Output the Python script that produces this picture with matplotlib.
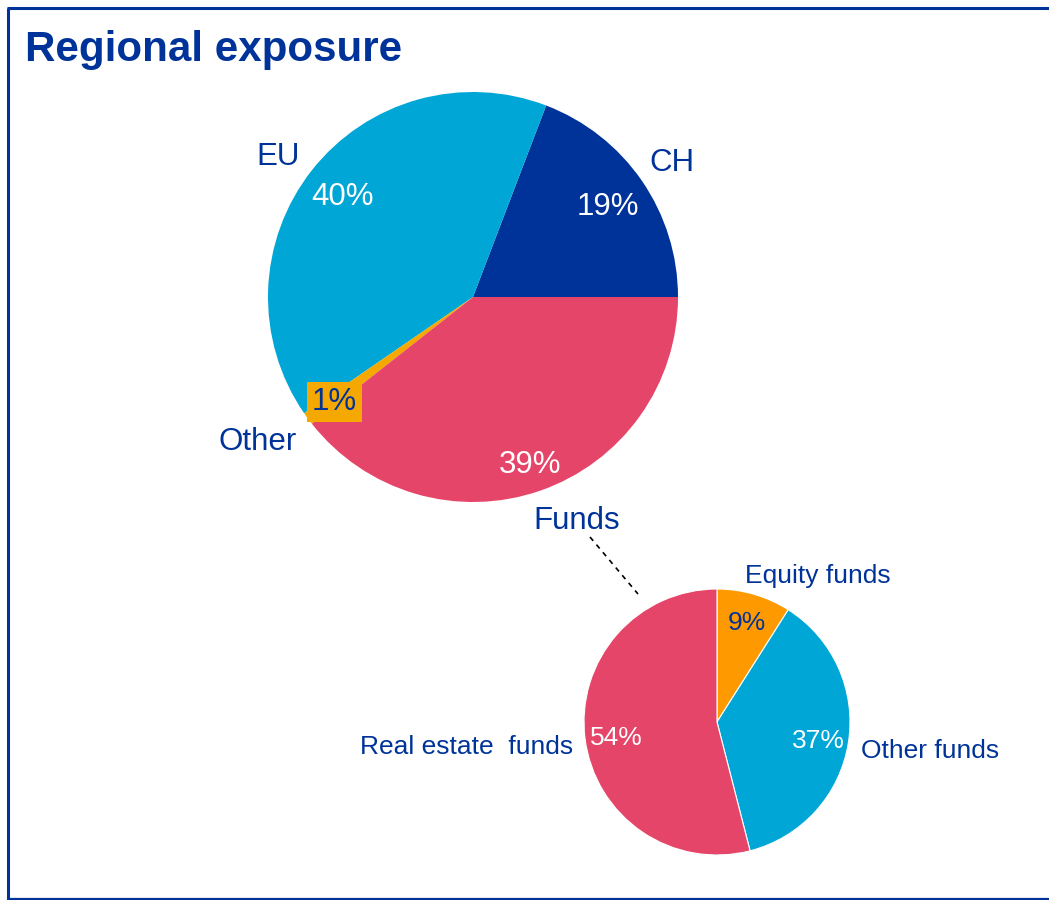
import numpy as np
import matplotlib
matplotlib.use("Agg")
import matplotlib.pyplot as plt

plt.rcParams['font.family'] = ['Liberation Sans', 'DejaVu Sans']

# regional split
regions = ['CH', 'EU', 'Other', 'Funds']
region_pct = [19, 40, 1, 39]
region_colors = ['#003399', '#00A6D6', '#F5A800', '#E6456A']

# breakdown of the funds slice
funds = ['Equity funds', 'Other funds', 'Real estate  funds']
funds_pct = [9, 37, 54]
funds_colors = ['#FF9900', '#00A6D6', '#E6456A']

navy = '#003399'
W, H = 1049, 900
dy = -3  # nudge labels down a little

fig = plt.figure(figsize=(W / 100, H / 100), dpi=100)
ax = fig.add_axes([0, 0, 1, 1])

# big pie, counter-clockwise from 3 o'clock
c1, r1 = (473, H - 297), 205
w1, _ = ax.pie(region_pct, colors=region_colors, startangle=0,
               center=c1, radius=r1, wedgeprops=dict(linewidth=0))

# small pie, clockwise from 12 o'clock
c2, r2 = (717, H - 722), 133
w2, _ = ax.pie(funds_pct, colors=funds_colors, startangle=90, counterclock=False,
               center=c2, radius=r2,
               wedgeprops=dict(edgecolor='white', linewidth=0.8))


def mid_angle(w):
    return np.deg2rad((w.theta1 + w.theta2) / 2)


def polar(center, r, a):
    return center[0] + r * np.cos(a), center[1] + r * np.sin(a)


# percentages inside the big pie
pct_r = [0.80, 0.81, 0.84, 0.85]
pct_col = ['white', 'white', navy, 'white']
for w, p, fr, col in zip(w1, region_pct, pct_r, pct_col):
    x, y = polar(c1, fr * r1, mid_angle(w))
    kw = {}
    if col == navy:
        kw['bbox'] = dict(boxstyle='square,pad=0.15', fc='#F5A800', ec='none')
    ax.text(x, y + dy, '%d%%' % p, color=col, fontsize=22.5, ha='center', va='center', **kw)

# region names outside
name_pos = [(1.18, 0), (1.18, 2), (1.26, -3), (1.19, 6)]
for w, name, (fr, da) in zip(w1, regions, name_pos):
    x, y = polar(c1, fr * r1, mid_angle(w) + np.deg2rad(da))
    ax.text(x, y + dy, name, color=navy, fontsize=22.5, ha='center', va='center')

# percentages inside the small pie
pct_r2 = [0.80, 0.77, 0.76]
pct_col2 = [navy, 'white', 'white']
for w, p, fr, col in zip(w2, funds_pct, pct_r2, pct_col2):
    x, y = polar(c2, fr * r2, mid_angle(w))
    ax.text(x, y + dy, '%d%%' % p, color=col, fontsize=19, ha='center', va='center')

# fund names
ax.text(818, H - 573 + dy, funds[0], color=navy, fontsize=19, ha='center', va='center')
ax.text(861, H - 748 + dy, funds[1], color=navy, fontsize=19, ha='left', va='center')
ax.text(573, H - 744 + dy, funds[2], color=navy, fontsize=19, ha='right', va='center')

# connector from Funds slice label to the breakdown
ax.plot([590, 638], [H - 537, H - 594], color='black', lw=1.2, ls=(0, (3, 3)))

ax.text(25, H - 47 + dy, 'Regional exposure', color=navy, fontsize=30.3,
        fontweight='bold', ha='left', va='center')

# frame: top, left and bottom edges
ax.plot([7, W + 5], [H - 8, H - 8], color=navy, lw=2.2, solid_capstyle='butt')
ax.plot([7.5, 7.5], [H - 8, 1], color=navy, lw=2.2, solid_capstyle='butt')
ax.plot([7, W + 5], [1, 1], color=navy, lw=1.6, solid_capstyle='butt')

ax.set_xlim(0, W)
ax.set_ylim(0, H)
ax.set_aspect('equal')
ax.axis('off')

fig.savefig('out.png', dpi=100)
